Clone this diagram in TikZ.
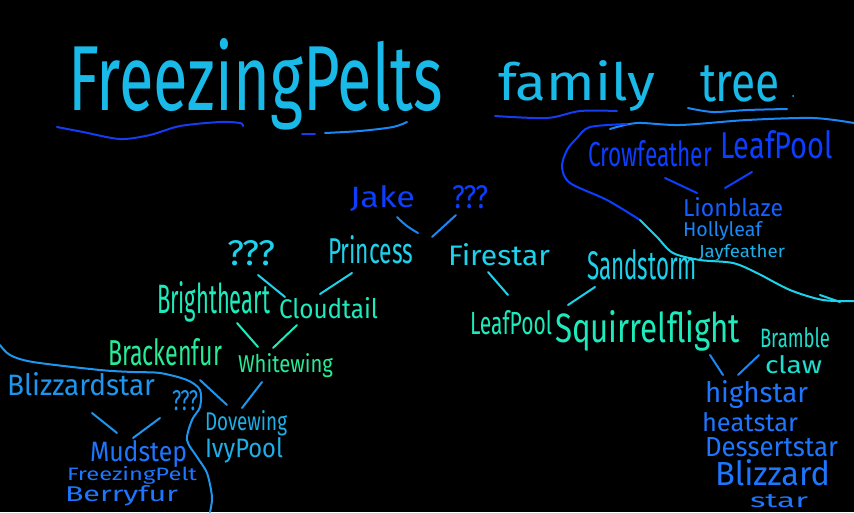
\documentclass[tikz,border=0pt]{standalone}
\usepackage{fontspec}
\setmainfont{Fira Sans}
\usepackage{graphicx}
\newcommand{\hw}[3]{\resizebox{#1pt}{#2pt}{#3}}
\definecolor{ttl}{RGB}{25,185,232}
\definecolor{uline}{RGB}{20,60,240}
\definecolor{deepb}{RGB}{12,62,255}
\definecolor{midb}{RGB}{20,95,255}
\definecolor{skyb}{RGB}{25,135,245}
\definecolor{lcyan}{RGB}{30,175,232}
\definecolor{cyanx}{RGB}{30,210,235}
\definecolor{aqua}{RGB}{30,235,188}
\definecolor{aquab}{RGB}{30,222,205}
\definecolor{mint}{RGB}{40,235,150}
\definecolor{blz}{RGB}{30,150,238}
\definecolor{lowb}{RGB}{30,118,255}
\tikzset{
  lbl/.style={inner sep=0pt, outer sep=0pt, anchor=base west, text=#1},
  lbl/.default=white,
  stroke/.style={draw=#1, line width=2pt, line cap=round, line join=round},
  stroke/.default=white
}
\begin{document}
\begin{tikzpicture}[x=1pt,y=-1pt]
\useasboundingbox (0,0) rectangle (854,512);
\fill[black] (0,0) rectangle (854,512);

% ---------- title ----------
\node[lbl=ttl] (t1) at (68,110) {\hw{375}{72}{FreezingPelts}};
\node[lbl=ttl] (t2) at (498,100) {\hw{157}{40}{family}};
\node[lbl=ttl] (t3) at (700,101) {\hw{80}{36}{tree}};
\fill[ttl] (793,96) circle (1pt);

% title underlines
\draw[stroke=uline] plot[smooth] coordinates {(57,127) (83,132) (120,139) (150,135) (180,126) (220,122) (240,123) (243,126)};
\draw[stroke=uline] (302,134) -- (315,134);
\draw[stroke=skyb] plot[smooth] coordinates {(325,133) (360,131) (393,127) (407,122)};
\draw[stroke=uline] plot[smooth] coordinates {(495,116) (547,118) (580,111) (617,111)};
\draw[stroke=skyb] plot[smooth] coordinates {(688,108) (713,112) (747,110) (787,109)};

% long line and loop at the top right
\draw[stroke=skyb] plot[smooth] coordinates {(610,129) (637,123) (680,125) (747,120) (813,118) (854,123)};
\draw[stroke=deepb] plot[smooth] coordinates {(627,124) (590,127) (577,138) (567,150) (562,167) (570,183) (607,200) (640,220)};
\draw[stroke=cyanx] plot[smooth] coordinates {(640,220) (657,237) (673,253) (700,260) (733,263) (757,273) (790,290) (823,300) (854,301)};
\draw[stroke=cyanx] (820,295) -- (840,302);

% lower-left boundary
\draw[stroke=blz] plot[smooth] coordinates {(0,345) (10,355) (33,362) (100,370) (133,372) (160,373) (187,380) (200,390) (200,407) (192,420) (187,440) (197,457) (207,473) (212,497) (210,512)};

% ---------- top right group ----------
\node[lbl=deepb] (crow) at (588,166) {\hw{124}{26}{Crowfeather}};
\node[lbl=deepb] (leafa) at (720,158) {\hw{113}{28}{LeafPool}};
\node[lbl=midb] (lion) at (683,216) {\hw{100}{19}{Lionblaze}};
\node[lbl=skyb] (holly) at (683,236) {\hw{79}{15}{Hollyleaf}};
\node[lbl=lcyan] (jay) at (699,257) {\hw{86}{13}{Jayfeather}};
\coordinate (c1a) at (665,178); \coordinate (c1b) at (697,193);
\coordinate (c2a) at (752,172); \coordinate (c2b) at (725,188);
\draw[stroke=deepb] (c1a) -- (c1b);
\draw[stroke=deepb] (c2a) -- (c2b);

% ---------- middle ----------
\node[lbl=deepb] (jake) at (350,207) {\hw{65}{22}{Jake}};
\node[lbl=deepb] (qa) at (452,208) {\hw{36}{23}{???}};
\coordinate (c3a) at (397,217); \coordinate (c3b) at (418,233);
\coordinate (c4a) at (456,215); \coordinate (c4b) at (432,237);
\draw[stroke=skyb] (c3a) to[bend right=8] (c3b);
\draw[stroke=skyb] (c4a) -- (c4b);

\node[lbl=cyanx] (princess) at (328,263) {\hw{85}{28}{Princess}};
\node[lbl=cyanx] (fire) at (448,265) {\hw{102}{22}{Firestar}};
\node[lbl=cyanx] (sand) at (587,279) {\hw{110}{30}{Sandstorm}};
\node[lbl=cyanx] (qb) at (227,265) {\hw{48}{25}{???}};

\coordinate (c5a) at (258,275); \coordinate (c5b) at (285,297);
\coordinate (c6a) at (352,273); \coordinate (c6b) at (320,294);
\draw[stroke=cyanx] (c5a) -- (c5b);
\draw[stroke=cyanx] (c6a) -- (c6b);

\node[lbl=aqua] (bright) at (157,313) {\hw{113}{32}{Brightheart}};
\node[lbl=aqua] (cloud) at (279,318) {\hw{99}{21}{Cloudtail}};

\coordinate (c7a) at (488,272); \coordinate (c7b) at (508,295);
\coordinate (c8a) at (595,287); \coordinate (c8b) at (568,305);
\draw[stroke=cyanx] (c7a) -- (c7b);
\draw[stroke=cyanx] (c8a) -- (c8b);

\node[lbl=aqua] (leafb) at (470,334) {\hw{82}{24}{LeafPool}};
\node[lbl=aqua] (squirrel) at (555,342) {\hw{185}{32}{Squirrelflight}};
\node[lbl=aquab] (bramble) at (760,347) {\hw{70}{20}{Bramble}};
\node[lbl=aquab] (claw) at (765,373) {\hw{57}{18}{claw}};

\coordinate (c9a) at (710,355); \coordinate (c9b) at (723,375);
\coordinate (c10a) at (759,355); \coordinate (c10b) at (738,375);
\draw[stroke=skyb] (c9a) -- (c9b);
\draw[stroke=skyb] (c10a) -- (c10b);

\node[lbl=lowb] (high) at (705,402) {\hw{103}{22}{highstar}};
\node[lbl=lowb] (heat) at (702,431) {\hw{96}{19}{heatstar}};
\node[lbl=lowb] (dessert) at (705,456) {\hw{133}{19}{Dessertstar}};
\node[lbl=lowb] (blizb) at (715,485) {\hw{115}{26}{Blizzard}};
\node[lbl=lowb] (blizc) at (750,507) {\hw{58}{13}{star}};

% ---------- lower left ----------
\coordinate (c11a) at (237,323); \coordinate (c11b) at (258,347);
\coordinate (c12a) at (297,325); \coordinate (c12b) at (273,348);
\draw[stroke=aqua] (c11a) -- (c11b);
\draw[stroke=aqua] (c12a) -- (c12b);

\node[lbl=mint] (bracken) at (108,365) {\hw{114}{27}{Brackenfur}};
\node[lbl=mint] (white) at (238,372) {\hw{95}{19}{Whitewing}};

\coordinate (c13a) at (200,380); \coordinate (c13b) at (227,405);
\coordinate (c14a) at (262,382); \coordinate (c14b) at (242,408);
\draw[stroke=blz] (c13a) -- (c13b);
\draw[stroke=blz] (c14a) -- (c14b);

\node[lbl=blz] (blizzard) at (7,395) {\hw{148}{23}{Blizzardstar}};
\node[lbl=blz] (qc) at (172,410) {\hw{26}{20}{???}};

\coordinate (c15a) at (92,413); \coordinate (c15b) at (117,433);
\coordinate (c16a) at (160,418); \coordinate (c16b) at (133,438);
\draw[stroke=blz] (c15a) -- (c15b);
\draw[stroke=blz] (c16a) -- (c16b);

\node[lbl=lcyan] (dove) at (205,430) {\hw{82}{20}{Dovewing}};
\node[lbl=lcyan] (ivy) at (205,457) {\hw{78}{20}{IvyPool}};

\node[lbl=lowb] (mud) at (90,461) {\hw{97}{21}{Mudstep}};
\node[lbl=lowb] (freezing) at (67,480) {\hw{130}{14}{FreezingPelt}};
\node[lbl=lowb] (berry) at (65,501) {\hw{113}{16}{Berryfur}};
\end{tikzpicture}
\end{document}
